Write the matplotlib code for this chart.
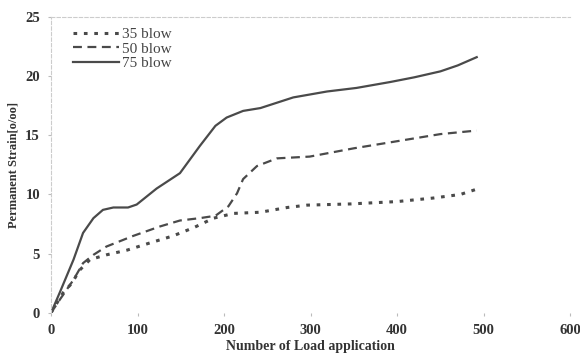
import matplotlib.pyplot as plt

# load applications vs permanent strain
x35 = [0, 14, 24, 33, 45, 64, 88, 114, 141, 165, 188, 211, 242, 273, 296, 346, 400, 442, 473, 490]
y35 = [0, 1.7, 2.5, 3.6, 4.5, 4.9, 5.3, 5.9, 6.5, 7.2, 8.0, 8.4, 8.5, 8.9, 9.1, 9.2, 9.4, 9.7, 10.0, 10.4]

x50 = [0, 10, 26, 37, 49, 64, 95, 126, 149, 172, 190, 205, 215, 222, 238, 261, 299, 350, 400, 450, 492]
y50 = [0, 1.1, 2.8, 4.2, 4.9, 5.6, 6.5, 7.3, 7.8, 8.0, 8.2, 9.0, 10.1, 11.3, 12.4, 13.05, 13.2, 13.9, 14.5, 15.1, 15.4]

x75 = [0, 10, 26, 37, 49, 60, 72, 89, 99, 122, 149, 172, 190, 203, 222, 242, 280, 319, 353, 392, 420, 450, 470, 492]
y75 = [0, 1.7, 4.5, 6.75, 8.0, 8.7, 8.9, 8.9, 9.15, 10.5, 11.8, 14.1, 15.8, 16.5, 17.06, 17.3, 18.2, 18.7, 19.0, 19.5, 19.9, 20.4, 20.9, 21.6]

xticks = [0, 100, 200, 300, 400, 500, 600]
yticks = [0, 5, 10, 15, 20, 25]

plt.rcParams['font.family'] = ['Liberation Serif', 'DejaVu Serif']

fig = plt.figure(figsize=(5.8, 3.6), dpi=100)
ax = fig.add_axes([0.088, 0.131, 0.895, 0.822])

lc = '#4a4a4a'
ax.plot(x35, y35, linestyle=(0, (1.2, 2.2)), color=lc, lw=2.2, label='35 blow')
ax.plot(x50, y50, linestyle=(0, (4, 2.5)), color=lc, lw=1.6, label='50 blow')
ax.plot(x75, y75, linestyle='-', color=lc, lw=1.6, label='75 blow', solid_joinstyle='round')

ax.set_xlim(0, 600)
ax.set_ylim(0, 25)
ax.set_xticks(xticks)
ax.set_yticks(yticks)
ax.tick_params(length=2, color='#bbbbbb', labelsize=10.5, labelcolor='#333333', pad=6)
for lab in ax.get_xticklabels() + ax.get_yticklabels():
    lab.set_fontweight('bold')

for s in ['right', 'bottom']:
    ax.spines[s].set_visible(False)
ax.spines['left'].set_color('#cccccc')
ax.spines['left'].set_linestyle((0, (3, 2)))
ax.spines['left'].set_linewidth(0.8)
ax.spines['top'].set_color('#cccccc')
ax.spines['top'].set_linestyle((0, (3, 2)))
ax.spines['top'].set_linewidth(0.8)

ax.set_xlabel('Number of Load application', fontsize=10, fontweight='bold', color='#333333', labelpad=2)
ax.set_ylabel('Permanent Strain[o/oo]', fontsize=9, fontweight='bold', color='#333333', labelpad=4)

leg = ax.legend(loc='upper left', bbox_to_anchor=(0.03, 0.985), frameon=False, fontsize=11,
                handlelength=3.0, handletextpad=0.2, labelspacing=0.05, borderaxespad=0)
for t in leg.get_texts():
    t.set_color('#444444')

fig.savefig('out.png', dpi=100)
